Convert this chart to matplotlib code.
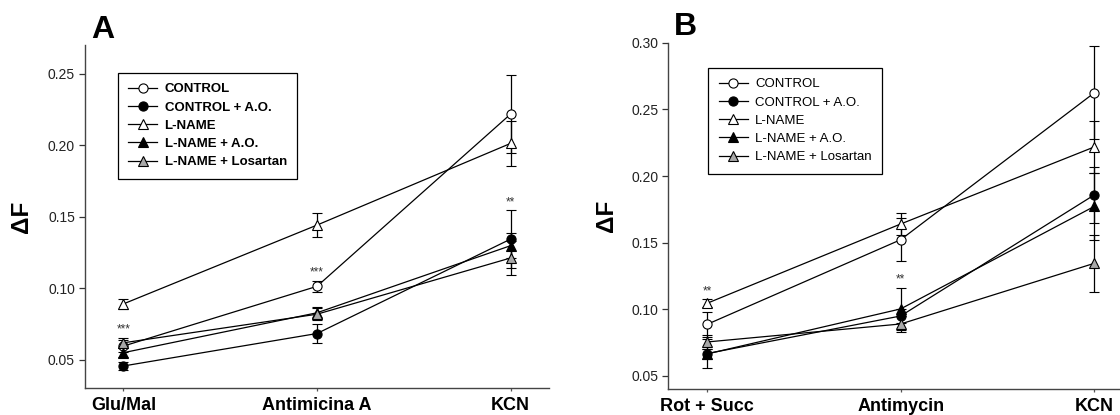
import matplotlib
matplotlib.use("Agg")
import matplotlib.pyplot as plt
from matplotlib.ticker import FixedLocator, FormatStrFormatter

plt.rcParams["font.family"] = ["Liberation Sans", "DejaVu Sans"]

# ---- data -------------------------------------------------------------
series_names = ["CONTROL", "CONTROL + A.O.", "L-NAME", "L-NAME + A.O.", "L-NAME + Losartan"]

a_categories = ["Glu/Mal", "Antimicina A", "KCN"]
a_control = [0.0595, 0.1013, 0.2217]
a_control_err = [0.0040, 0.0040, 0.0270]
a_control_ao = [0.0456, 0.0683, 0.1343]
a_control_ao_err = [0.0025, 0.0064, 0.0200]
a_lname = [0.0890, 0.1441, 0.2012]
a_lname_err = [0.0035, 0.0082, 0.0155]
a_lname_ao = [0.0549, 0.0828, 0.1297]
a_lname_ao_err = [0.0030, 0.0041, 0.0088]
a_losartan = [0.0618, 0.0818, 0.1211]
a_losartan_err = [0.0035, 0.0042, 0.0120]
# significance marks: (category index, series index, text)
a_marks = [(0, 4, "***"), (1, 0, "***"), (2, 1, "**")]

b_categories = ["Rot + Succ", "Antimycin", "KCN"]
b_control = [0.0887, 0.1522, 0.2624]
b_control_err = [0.0096, 0.0160, 0.0350]
b_control_ao = [0.0668, 0.0950, 0.1858]
b_control_ao_err = [0.0110, 0.0050, 0.0210]
b_lname = [0.1045, 0.1640, 0.2218]
b_lname_err = [0.0030, 0.0080, 0.0195]
b_lname_ao = [0.0665, 0.1003, 0.1772]
b_lname_ao_err = [0.0040, 0.0158, 0.0250]
b_losartan = [0.0755, 0.0890, 0.1345]
b_losartan_err = [0.0050, 0.0060, 0.0213]
b_marks = [(0, 2, "**"), (1, 3, "**")]

# ---- styles -----------------------------------------------------------
styles = [
    dict(marker="o", mfc="white"),
    dict(marker="o", mfc="black"),
    dict(marker="^", mfc="white"),
    dict(marker="^", mfc="black"),
    dict(marker="^", mfc="#a8a8a8"),
]

W, H = 1120, 415
fig = plt.figure(figsize=(W / 100, H / 100), dpi=100)


def px_axes(left, top, right, bottom):
    return fig.add_axes([left / W, 1 - bottom / H, (right - left) / W, (bottom - top) / H])


def draw_panel(ax, cats, means, errs, marks, ylim, yticks, legend_weight, legend_anchor):
    x = list(range(1, len(cats) + 1))
    handles = []
    for m, e, st in zip(means, errs, styles):
        eb = ax.errorbar(x, m, yerr=e, color="black", lw=0.9, ms=6.6,
                         mec="black", mew=0.8, ecolor="black", elinewidth=0.9,
                         capsize=3.4, capthick=0.9, **st)
        handles.append(eb[0])
    for ci, si, txt in marks:
        ax.annotate(txt, (x[ci], means[si][ci] + errs[si][ci]), xytext=(0, 1.5),
                    textcoords="offset points", ha="center", va="bottom",
                    fontsize=8.5, color="#333333")
    ax.set_xlim(0.8, 3.2)
    ax.set_ylim(*ylim)
    ax.yaxis.set_major_locator(FixedLocator(yticks))
    ax.yaxis.set_major_formatter(FormatStrFormatter("%.2f"))
    ax.set_xticks(x)
    ax.set_xticklabels(cats, fontsize=13, fontweight="bold")
    ax.tick_params(axis="y", direction="out", length=4, width=0.9, pad=3,
                   labelsize=10, colors="#333333", labelcolor="#222222")
    ax.tick_params(axis="x", direction="out", length=2.5, width=0.9, pad=4,
                   colors="#555555", labelcolor="black")
    for side in ("top", "right"):
        ax.spines[side].set_visible(False)
    for side in ("left", "bottom"):
        ax.spines[side].set_color("#444444")
        ax.spines[side].set_linewidth(1.0)
    leg = ax.legend(handles, series_names, loc="upper left", bbox_to_anchor=legend_anchor,
                    borderaxespad=0, prop=dict(size=9.5, weight=legend_weight),
                    frameon=True, fancybox=False, framealpha=1, edgecolor="black",
                    handlelength=2.2, handletextpad=0.55, labelspacing=0.45,
                    borderpad=0.8, numpoints=1)
    leg.get_frame().set_linewidth(0.9)


ax_a = px_axes(84.7, 45.0, 549.3, 388.3)
draw_panel(ax_a, a_categories,
           [a_control, a_control_ao, a_lname, a_lname_ao, a_losartan],
           [a_control_err, a_control_ao_err, a_lname_err, a_lname_ao_err, a_losartan_err],
           a_marks, (0.03, 0.27), [0.05, 0.10, 0.15, 0.20, 0.25], "bold",
           ((117.7 - 84.7) / 464.6, (388.3 - 72.7) / 343.3))

ax_b = px_axes(668.3, 42.7, 1133.0, 389.3)
draw_panel(ax_b, b_categories,
           [b_control, b_control_ao, b_lname, b_lname_ao, b_losartan],
           [b_control_err, b_control_ao_err, b_lname_err, b_lname_ao_err, b_losartan_err],
           b_marks, (0.04, 0.30), [0.05, 0.10, 0.15, 0.20, 0.25, 0.30], "normal",
           ((708.3 - 668.3) / 464.6, (389.3 - 67.7) / 346.6))

# axis titles and panel letters
for cx, cy in ((21.5, 216.7), (606.7, 216.0)):
    fig.text(cx / W, 1 - cy / H, "ΔF", rotation=90, ha="center", va="center",
             fontsize=17.5, fontweight="bold")
fig.text(91.5 / W, 1 - 38.3 / H, "A", ha="left", va="baseline", fontsize=23, fontweight="bold")
fig.text(674.0 / W, 1 - 35.0 / H, "B", ha="left", va="baseline", fontsize=23, fontweight="bold")

fig.savefig("out.png", dpi=100)
